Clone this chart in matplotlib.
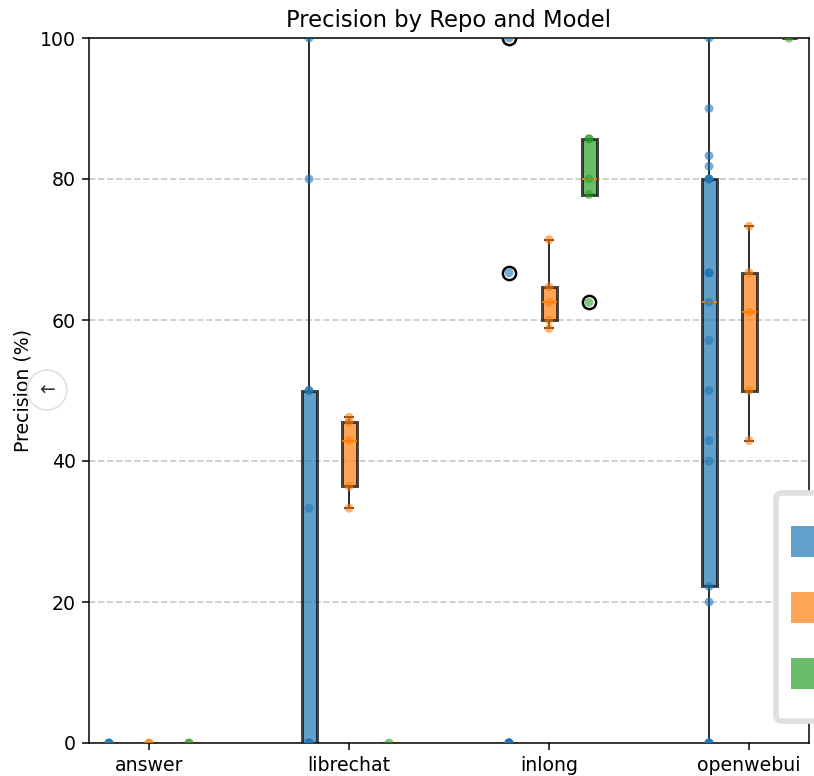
import matplotlib
matplotlib.use("Agg")
import matplotlib.pyplot as plt
from matplotlib.patches import Patch, Rectangle
from matplotlib.legend_handler import HandlerPatch

repos = ["answer", "librechat", "inlong", "openwebui"]
models = ["", "", ""]  # legend labels are cut off in the reference
colors = ["#1f77b4", "#ff7f0e", "#2ca02c"]

# precision values (%) per repo, one list per model
model_a = [
    [0, 0, 0],
    [0, 0, 0, 0, 0, 0, 33.3, 50, 50, 80, 100],
    [0, 0, 0, 0, 0, 0, 0, 66.7, 100],
    [0, 0, 0, 0, 20, 22.2, 40, 42.9, 50, 57.1, 62.5, 66.7, 66.7, 66.7,
     80, 80, 80, 81.8, 83.3, 90, 100],
]
model_b = [
    [0, 0],
    [33.3, 36.4, 42.9, 45.5, 46.2],
    [58.8, 60.0, 62.5, 64.7, 71.4],
    [42.9, 50.0, 61.1, 66.7, 73.3],
]
model_c = [
    [0, 0],
    [0],
    [62.5, 77.8, 80.0, 85.7, 85.7],
    [100],
]
series = [model_a, model_b, model_c]
offsets = [-0.2, 0.0, 0.2]

dpi = 136
fig = plt.figure(figsize=(814 / dpi, 776 / dpi), dpi=dpi)
ax = fig.add_axes([89 / 814, 1 - 743 / 776, (809 - 89) / 814, (743 - 38) / 776])

for data, off, col in zip(series, offsets, colors):
    pos = [i + off for i in range(len(repos))]
    bp = ax.boxplot(
        data, positions=pos, widths=0.075, patch_artist=True, manage_ticks=False,
        boxprops=dict(facecolor=col, alpha=0.7, edgecolor="black", linewidth=1.6),
        whiskerprops=dict(color="#222222", linewidth=1.0),
        capprops=dict(color="#222222", linewidth=1.0),
        medianprops=dict(color="#ff7f0e", linewidth=1.0),
        flierprops=dict(marker="o", markerfacecolor="none", markeredgecolor="black",
                        markersize=7, markeredgewidth=1.3),
        zorder=2,
    )
    for f in bp["fliers"]:
        f.set_clip_on(True)
    for p, vals in zip(pos, data):
        ax.scatter([p] * len(vals), vals, s=22, color=col, alpha=0.6,
                   edgecolors="none", zorder=3)

ax.set_xlim(-0.3, 3.3)
ax.set_ylim(0, 100)
ax.set_xticks(range(len(repos)))
ax.set_xticklabels(repos)
ax.set_yticks([0, 20, 40, 60, 80, 100])
ax.yaxis.grid(True, linestyle="--", color="#bbbbbb", alpha=0.8, linewidth=0.9)
ax.set_axisbelow(True)
ax.set_ylabel("Precision (%)")
ax.set_title("Precision by Repo and Model")


def small_patch(legend, orig_handle, xdescent, ydescent, width, height, fontsize):
    h = height * 0.47
    return Rectangle((-xdescent, -ydescent + (height - h) / 2), width, h)


handles = [Patch(facecolor=c, alpha=0.7, edgecolor="none") for c in colors]
leg = fig.legend(handles, models, loc="upper left",
                 bbox_to_anchor=(776 / 814, 1 - 493 / 776),
                 bbox_transform=fig.transFigure, borderaxespad=0,
                 fontsize=16, borderpad=0.5, labelspacing=0.0,
                 handleheight=2.985, handlelength=2.0, fancybox=True,
                 framealpha=1.0,
                 handler_map={Patch: HandlerPatch(patch_func=small_patch)})
leg.get_frame().set_edgecolor("#e0e0e0")
leg.get_frame().set_linewidth(3)

fig.text(47 / 814, 1 - 390 / 776, "←", ha="center", va="center", fontsize=10,
         color="#333333",
         bbox=dict(boxstyle="circle,pad=0.55", facecolor="white",
                   edgecolor="#dddddd", linewidth=0.8))

fig.savefig("out.png", dpi=dpi)
